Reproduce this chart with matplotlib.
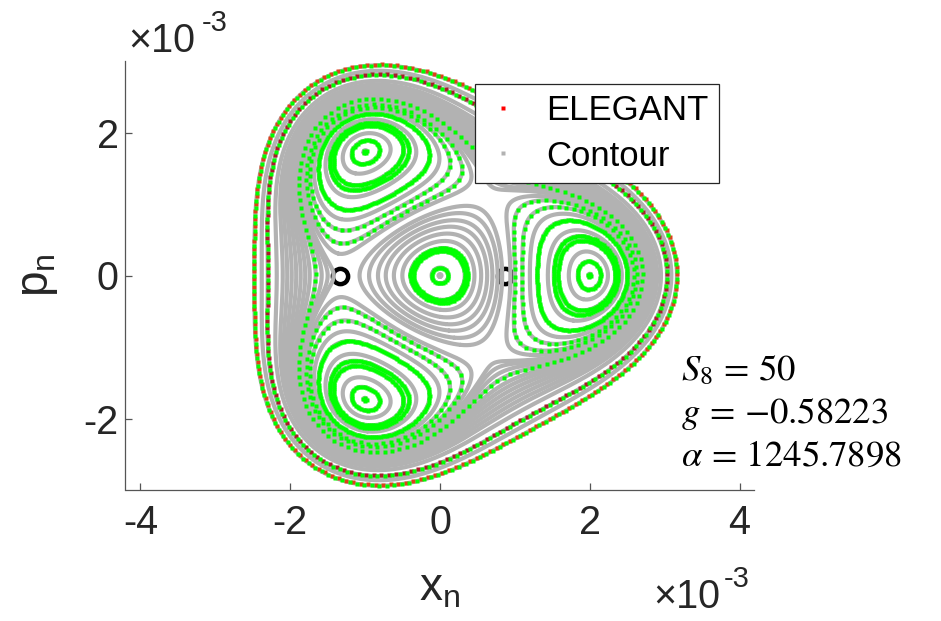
import numpy as np
import matplotlib
matplotlib.use("Agg")
import matplotlib.pyplot as plt
from matplotlib.lines import Line2D
import contourpy

plt.rcParams["font.family"] = ["Liberation Sans", "DejaVu Sans"]
plt.rcParams["axes.unicode_minus"] = False

# Normal-form Hamiltonian of the third-order resonance (coordinates in units of 1e-3):
# H = A r^2 + B (x^3 - 3 x p^2) + C r^4
A, B, C = -5.32, -0.893, 1.0

# marked points on the p_n = 0 axis
fixed_x = [-1.33, 0.87, 2.78]

# contour lines, given by the x_n where each one crosses p_n = 0
center_lines = [0.02, 0.11, 0.33, 0.37, 0.46, 0.55, 0.63, 0.70, 0.77, 0.83]
island_lines = [1.98, 1.84, 1.72, 1.58, 1.52, 1.44, 1.30, 1.20, 1.10, 1.00, 0.94]
outer_lines = [-1.42, -1.50, -1.58, -1.66, -1.74, -1.80, -1.86, -1.92, -1.98,
               -2.04, -2.10, -2.18, -2.30, -2.38, -2.48]

# ELEGANT tracked orbits (same crossing convention)
track_solid = [0.11, 0.33, 0.37, 1.98, 1.84, 1.58, 1.52, 1.30]
track_dotted = [1.10, 1.00, -1.66, -2.30, -2.48]
track_red = [-2.30, -2.48]

S8, g_val, alpha_val = 50, -0.58223, 1245.7898


def ham(x, p):
    r2 = x ** 2 + p ** 2
    return A * r2 + B * (x ** 3 - 3 * x * p ** 2) + C * r2 ** 2


xg, pg = np.meshgrid(np.linspace(-4.2, 4.2, 841), np.linspace(-3.2, 3.2, 641))
gen = contourpy.contour_generator(xg, pg, ham(xg, pg))


def orbit(xc):
    level = ham(xc, 0.0)
    base = 0.0 if xc > 0 else np.pi
    refs = [(abs(xc) * np.cos(a + base), abs(xc) * np.sin(a + base))
            for a in (0.0, 2 * np.pi / 3, -2 * np.pi / 3)]
    segs = []
    for seg in gen.lines(level):
        d = min(np.min(np.hypot(seg[:, 0] - rx, seg[:, 1] - ry)) for rx, ry in refs)
        if d < 0.04:
            segs.append(seg)
    return segs


fig = plt.figure(figsize=(9.41, 6.21), dpi=100)
ax = fig.add_axes([125.5 / 941, (621 - 490) / 621, 629 / 941, 429 / 621])
ax.set_xlim(-4.2, 4.2)
ax.set_ylim(-3.0, 3.0)


def sample(seg, step, shift=0.0):
    disp = ax.transData.transform(seg)
    d = np.hypot(np.diff(disp[:, 0]), np.diff(disp[:, 1]))
    s = np.concatenate([[0.0], np.cumsum(d)])
    n = max(int(s[-1] / step), 4)
    t = (np.arange(n) * s[-1] / n + shift) % s[-1]
    return np.interp(t, s, seg[:, 0]), np.interp(t, s, seg[:, 1])


# fixed points (drawn underneath)
ax.plot(fixed_x, np.zeros(len(fixed_x)), ls="none", marker="o", ms=11, mfc="none",
        mec="black", mew=3.2, zorder=1)

gray = "#b2b2b2"
for xc in center_lines + island_lines + outer_lines:
    for seg in orbit(xc):
        ax.plot(seg[:, 0], seg[:, 1], color=gray, lw=3.0, solid_capstyle="round",
                zorder=2)

for xc in track_red:
    for seg in orbit(xc):
        col = "#e0401a" if xc < -2.4 else "#a81c2a"
        sx, sy = sample(seg, 7.5, 3.5)
        ax.plot(sx, sy + 0.012, ls="none", marker="s", ms=2.7, mec="none",
                color=col, zorder=3)

for xc in track_solid:
    for seg in orbit(xc):
        sx, sy = sample(seg, 2.2)
        ax.plot(sx, sy, ls="none", marker="s", ms=2.6, mec="none", color="#00ff00",
                zorder=4)

for xc in track_dotted:
    for seg in orbit(xc):
        sx, sy = sample(seg, 7.5)
        ax.plot(sx, sy, ls="none", marker="s", ms=2.8, mec="none", color="#00ff00",
                zorder=4)

# axes styling
for side in ("top", "right"):
    ax.spines[side].set_visible(False)
for side in ("left", "bottom"):
    ax.spines[side].set_color("#555555")
    ax.spines[side].set_linewidth(0.9)
ax.set_xticks([-4, -2, 0, 2, 4])
ax.set_yticks([-2, 0, 2])
ax.tick_params(direction="in", length=5, width=0.9, colors="#555555",
               labelcolor="#262626", labelsize=28.5)
ax.tick_params(axis="x", pad=10)
ax.tick_params(axis="y", pad=5)

ax.set_xlabel(r"x$_\mathregular{n}$", fontsize=33, color="#262626", labelpad=18)
ax.set_ylabel(r"p$_\mathregular{n}$", fontsize=33, color="#262626", labelpad=17)

# exponent labels
fig.text(128 / 941, 1 - 52 / 621, "\u00d710", fontsize=28.5, color="#262626",
         va="baseline", ha="left")
fig.text(202 / 941, 1 - 31 / 621, "-3", fontsize=21, color="#262626",
         va="baseline", ha="left")
fig.text(653 / 941, 1 - 608 / 621, "\u00d710", fontsize=28.5, color="#262626",
         va="baseline", ha="left")
fig.text(724 / 941, 1 - 587 / 621, "-3", fontsize=21, color="#262626",
         va="baseline", ha="left")

# parameter annotation
ann = [rf"$S_8\,=\,{{{S8}}}$", rf"$g\,=\,{{{g_val}}}$",
       rf"$\alpha\,=\,{{{alpha_val}}}$"]
for i, s in enumerate(ann):
    fig.text(681 / 941, 1 - (380 + 43 * i) / 621, s, fontsize=26.5, color="black",
             va="baseline", ha="left", math_fontfamily="stix")

handles = [
    Line2D([], [], ls="none", marker="s", ms=3, mec="none", color="red"),
    Line2D([], [], ls="none", marker="s", ms=3, mec="none", color=gray),
]
leg = ax.legend(handles, ["ELEGANT", "Contour"], loc="upper left",
                bbox_to_anchor=(475 / 941, 1 - 84 / 621),
                bbox_transform=fig.transFigure, borderaxespad=0, fontsize=25,
                frameon=True, fancybox=False, framealpha=1, edgecolor="#262626",
                borderpad=0.3, labelspacing=0.35, handlelength=1.0,
                handletextpad=0.75)
leg.get_frame().set_linewidth(0.9)
leg.set_zorder(10)

fig.savefig("out.png", dpi=100)
